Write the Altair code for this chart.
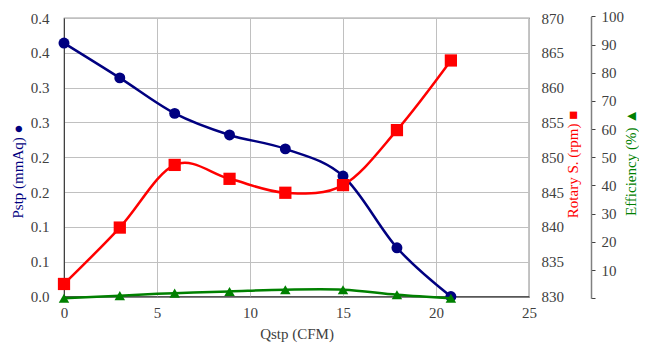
import altair as alt
import pandas as pd

# ---- data ----
q = [0.0, 3.0, 5.95, 8.9, 11.9, 15.0, 17.9, 20.8]
pstp = [0.364, 0.314, 0.263, 0.232, 0.212, 0.173, 0.070, 0.0]
rpm = [831.8, 839.9, 848.9, 846.9, 844.9, 846.0, 853.9, 863.9]
eff = [0.0, 0.9, 1.8, 2.4, 3.0, 3.0, 1.2, 0.0]

x_ticks = [0, 5, 10, 15, 20, 25]
pstp_ticks = [0.0, 0.05, 0.1, 0.15, 0.2, 0.25, 0.3, 0.35, 0.4]
pstp_labels = ["0.0", "0.1", "0.1", "0.2", "0.2", "0.3", "0.3", "0.4", "0.4"]
rpm_ticks = [830, 835, 840, 845, 850, 855, 860, 865, 870]
eff_ticks = [0, 10, 20, 30, 40, 50, 60, 70, 80, 90, 100]

df = pd.DataFrame({"Q": q, "Pstp": pstp, "RPM": rpm, "Eff": eff})

FONT = "Liberation Serif"
NAVY = "#000080"
RED = "#FF0000"
GREEN = "#008000"
GRID = "#C0C0C0"
DARK = "#404040"

common = dict(labelFont=FONT, titleFont=FONT, labelFontSize=15, titleFontSize=15,
              labelColor=DARK, titleFontWeight="normal", labelFlush=False)

x_enc = alt.X(
    "Q:Q",
    scale=alt.Scale(domain=[0, 25], nice=False),
    axis=alt.Axis(
        values=x_ticks,
        title="Qstp (CFM)",
        titleColor=DARK,
        grid=True,
        gridColor=GRID,
        ticks=False,
        tickSize=0,
        labelPadding=9,
        titlePadding=6,
        domainColor=DARK,
        **common,
    ),
)

label_expr = "[" + ",".join("'%s'" % s for s in pstp_labels) + "][round(datum.value*20)]"

blue = alt.Chart(df).mark_line(
    interpolate="cardinal", tension=0, strokeWidth=2.5, color=NAVY,
    point=alt.OverlayMarkDef(filled=True, size=120, shape="circle", color=NAVY, opacity=1),
).encode(
    x=x_enc,
    y=alt.Y(
        "Pstp:Q",
        scale=alt.Scale(domain=[0, 0.4], nice=False),
        axis=alt.Axis(
            orient="left",
            values=pstp_ticks,
            labelExpr=label_expr,
            title="Pstp (mmAq) ●",
            titleColor=NAVY,
            titleY=153,
            grid=True,
            gridColor=GRID,
            ticks=False,
            tickSize=0,
            labelPadding=15,
            titlePadding=5,
            domainColor=DARK,
            **common,
        ),
    ),
)

red = alt.Chart(df).mark_line(
    interpolate="cardinal", tension=0, strokeWidth=2.5, color=RED,
    point=alt.OverlayMarkDef(filled=True, size=150, shape="square", color=RED, opacity=1),
).encode(
    x=x_enc,
    y=alt.Y(
        "RPM:Q",
        scale=alt.Scale(domain=[830, 870], nice=False, zero=False),
        axis=alt.Axis(
            orient="right",
            values=rpm_ticks,
            format="d",
            title="Rotary S. (rpm) ■",
            titleColor=RED,
            titleAngle=270,
            titleBaseline="top",
            titleY=146,
            grid=False,
            ticks=False,
            tickSize=0,
            labelPadding=12,
            titlePadding=2,
            domain=False,
            **common,
        ),
    ),
)

green = alt.Chart(df).mark_line(
    interpolate="cardinal", tension=0, strokeWidth=2.5, color=GREEN,
    point=alt.OverlayMarkDef(filled=True, size=110, shape="triangle-up", color=GREEN, opacity=1),
).encode(
    x=x_enc,
    y=alt.Y(
        "Eff:Q",
        scale=alt.Scale(domain=[0, 100], range=[280.2, -1.6], nice=False),
        axis=alt.Axis(
            orient="right",
            offset=62,
            values=eff_ticks,
            labelExpr="datum.value == 0 ? '' : datum.label",
            title="Efficiency (%) ▲",
            titleColor=GREEN,
            titleAngle=270,
            titleBaseline="top",
            titleY=144,
            grid=False,
            ticks=True,
            tickSize=4,
            tickColor=DARK,
            labelPadding=6,
            titlePadding=0,
            domainColor="#808080",
            domainWidth=1.5,
            **common,
        ),
    ),
)

chart = alt.layer(blue, red, green).resolve_scale(y="independent").properties(
    width=465,
    height=278.5,
    autosize=alt.AutoSizeParams(type="none"),
    padding={"left": 56, "top": 10, "right": 110, "bottom": 48},
    background="white",
).configure(
    font=FONT,
).configure_view(
    stroke=DARK,
    strokeWidth=1.2,
)

chart.save("out.html", embed_options={"renderer": "svg", "actions": False})
